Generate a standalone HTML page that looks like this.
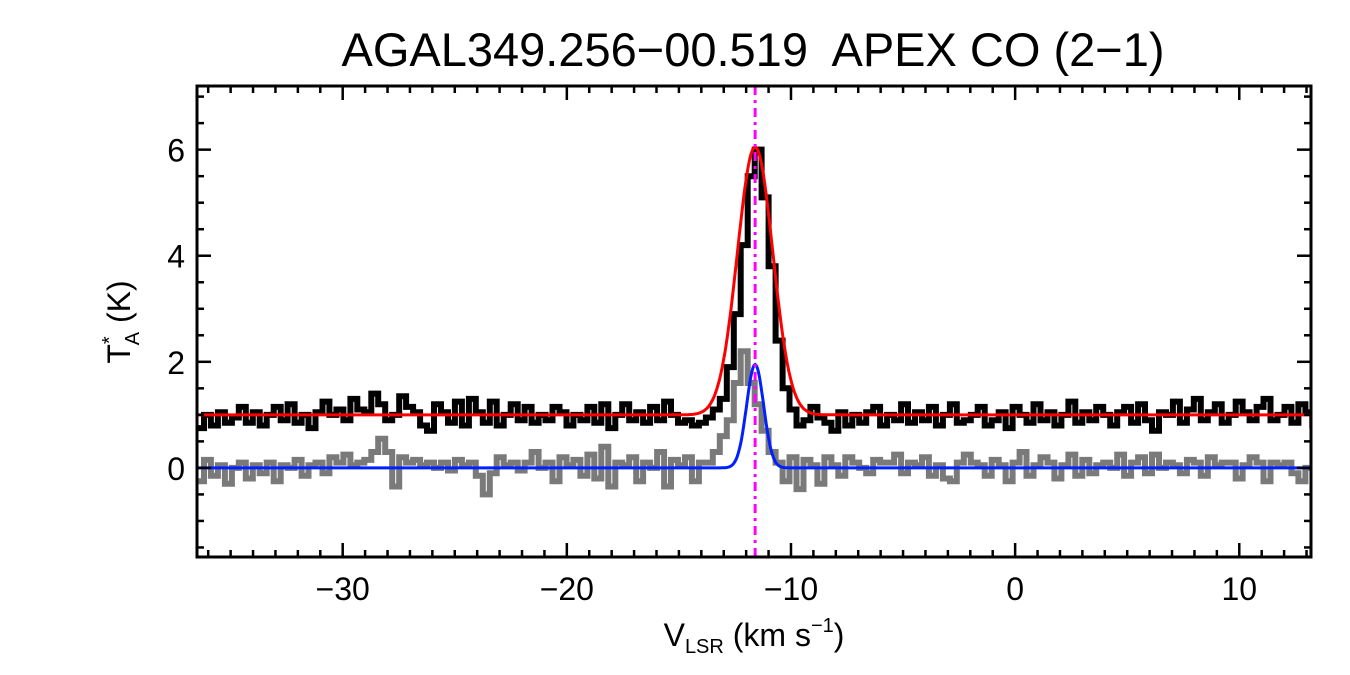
<!DOCTYPE html>
<html><head><meta charset="utf-8"><style>
body{margin:0;background:#fff;}
svg{display:block;font-family:"Liberation Sans",sans-serif;}
</style></head><body>
<svg id="chart" width="1350" height="675" viewBox="0 0 1350 675" xmlns="http://www.w3.org/2000/svg">
<rect width="1350" height="675" fill="#fff"/>
<text x="753" y="66" font-size="47" text-anchor="middle" xml:space="preserve">AGAL349.256−00.519  APEX CO (2−1)</text>
<g id="plot"></g>
<text transform="translate(130,322) rotate(-90)" font-size="32" text-anchor="middle">T<tspan font-size="20" dy="-14">*</tspan><tspan font-size="20" dx="-9" dy="23">A</tspan><tspan dy="-9"> (K)</tspan></text>
<text x="754" y="646" font-size="32" text-anchor="middle">V<tspan font-size="20" dy="7">LSR</tspan><tspan dy="-7"> (km s</tspan><tspan font-size="20" dy="-14">−1</tspan><tspan dy="14">)</tspan></text>
</svg>
<script>
const xTicks=[-30,-20,-10,0,10];
const yTicks=[0,2,4,6];
const vStart=-36.5, chanWidth=0.311;
const blackVals=[0.75,1.0,0.8,1.05,0.85,0.95,1.15,0.85,1.05,0.8,1.0,1.15,0.9,1.2,0.85,1.0,0.75,1.05,1.25,1.0,1.1,0.9,1.3,1.1,1.05,1.4,1.2,0.9,1.0,1.35,1.15,1.05,0.8,0.7,1.2,1.05,0.85,1.25,0.8,1.3,1.05,0.85,1.25,0.8,1.0,1.2,0.9,1.15,0.85,1.0,0.9,1.15,1.05,0.8,1.0,0.9,1.15,0.85,1.2,0.75,1.0,1.2,0.9,1.05,0.85,1.15,0.9,1.25,1.0,0.85,0.9,0.8,0.85,0.95,1.1,1.3,1.9,2.9,4.2,5.5,6.0,5.1,3.8,2.4,1.5,1.1,0.8,0.9,1.15,0.95,0.85,0.7,1.05,0.8,1.0,0.85,1.05,1.15,0.8,1.0,0.9,1.2,0.85,1.05,0.9,1.15,0.8,1.0,1.2,0.85,0.9,1.0,1.15,0.8,0.9,1.05,0.75,1.15,1.0,0.85,1.2,0.9,1.05,0.8,1.0,1.25,0.85,1.05,0.9,1.15,1.0,0.8,1.05,1.15,0.85,1.2,0.9,0.7,1.05,1.0,1.25,0.85,1.1,1.3,0.9,1.05,1.2,0.85,1.0,1.25,1.05,0.9,1.15,1.3,0.9,1.0,1.15,0.85,1.2,1.05,0.8,0.85];
const grayVals=[-0.25,0.15,-0.15,0.05,-0.3,0.0,0.1,-0.2,0.05,-0.1,0.1,-0.25,0.05,0.0,0.15,-0.15,0.05,0.1,-0.1,0.2,0.1,0.25,0.05,0.1,0.15,0.3,0.55,0.3,-0.35,0.2,0.1,0.15,0.05,0.1,0.0,0.1,-0.05,0.15,0.05,0.1,-0.15,-0.5,-0.1,0.2,0.05,0.1,-0.05,0.1,0.3,0.0,0.1,-0.25,0.2,0.05,0.15,-0.15,0.25,-0.2,0.4,-0.35,0.1,0.05,0.2,-0.25,0.1,0.0,0.3,-0.35,0.15,0.05,0.2,-0.25,0.1,0.1,0.3,0.6,0.9,1.6,2.2,1.6,1.2,0.7,0.3,0.1,-0.25,0.2,-0.4,0.15,0.05,-0.3,0.2,0.05,-0.15,0.2,0.1,0.0,-0.1,0.15,0.1,0.1,0.25,-0.1,0.1,0.05,0.2,-0.15,0.05,-0.2,-0.25,0.1,0.25,0.1,0.05,-0.15,0.15,0.05,-0.25,0.1,0.3,-0.15,0.05,0.2,0.1,-0.2,0.05,0.25,-0.15,0.15,-0.1,0.05,0.1,0.0,0.25,-0.15,0.1,0.2,-0.1,0.25,0.0,0.1,0.05,-0.1,0.15,0.1,-0.15,0.2,0.05,0.1,0.1,-0.2,0.05,0.2,0.1,-0.25,0.1,0.05,0.1,-0.1,-0.25,0.0];
const redFit=[1.0,5.05,-11.6,0.79];
const blueFit=[0.0,1.95,-11.6,0.38];
const markerV=-11.6;

const L=197,R=1311,T=86,B=557, xmin=-36.5,xmax=13.2,ymin=-1.68,ymax=7.2;
const X=v=>L+(v-xmin)/(xmax-xmin)*(R-L);
const Y=t=>B-(t-ymin)/(ymax-ymin)*(B-T);
const NS="http://www.w3.org/2000/svg";
const g=document.getElementById('plot');
function mk(tag,attrs){const e=document.createElementNS(NS,tag);for(const k in attrs)e.setAttribute(k,attrs[k]);g.appendChild(e);return e;}
const clip=document.createElementNS(NS,'clipPath');clip.setAttribute('id','pc');
const cr=document.createElementNS(NS,'rect');cr.setAttribute('x',L);cr.setAttribute('y',T);cr.setAttribute('width',R-L);cr.setAttribute('height',B-T);clip.appendChild(cr);g.appendChild(clip);
function stepPath(vals){let d='';vals.forEach((t,i)=>{const x0=X(vStart+i*chanWidth),x1=X(vStart+(i+1)*chanWidth),y=Y(t);d+=(i?'L':'M')+x0.toFixed(1)+','+y.toFixed(1)+'L'+x1.toFixed(1)+','+y.toFixed(1);});return d;}
function fitPath(p){let d='';for(let v=xmin;v<=xmax;v+=0.05){const t=p[0]+p[1]*Math.exp(-0.5*((v-p[2])/p[3])**2);d+=(d?'L':'M')+X(v).toFixed(1)+','+Y(t).toFixed(1);}return d;}
let e;
e=mk('path',{d:stepPath(grayVals),fill:'none',stroke:'#7a7a7a','stroke-width':6,'clip-path':'url(#pc)'});


e=mk('path',{d:stepPath(blackVals),fill:'none',stroke:'#000','stroke-width':6,'clip-path':'url(#pc)'});


e=mk('path',{d:fitPath(redFit),fill:'none',stroke:'#ff0000','stroke-width':3,'clip-path':'url(#pc)'});


e=mk('path',{d:fitPath(blueFit),fill:'none',stroke:'#0020ff','stroke-width':3,'clip-path':'url(#pc)'});


e=mk('line',{x1:X(markerV),x2:X(markerV),y1:T,y2:B,stroke:'#ff00ff','stroke-width':3,'stroke-dasharray':'9,5,3,5'});


e=mk('rect',{x:L,y:T,width:R-L,height:B-T,fill:'none',stroke:'#000','stroke-width':3});


for(let v=-36;v<=13;v+=1){const maj=v%10===0;const h=maj?14:7;
 mk('line',{x1:X(v),x2:X(v),y1:B,y2:B-h,stroke:'#000','stroke-width':2.5});
 mk('line',{x1:X(v),x2:X(v),y1:T,y2:T+h,stroke:'#000','stroke-width':2.5});}
for(let t=-1.5;t<=7;t+=0.5){const maj=Math.abs(t%2)<1e-9;const h=maj?14:7;
 mk('line',{x1:L,x2:L+h,y1:Y(t),y2:Y(t),stroke:'#000','stroke-width':2.5});
 mk('line',{x1:R,x2:R-h,y1:Y(t),y2:Y(t),stroke:'#000','stroke-width':2.5});}
xTicks.forEach(v=>{e=mk('text',{x:X(v),y:B+43,'font-size':32,'text-anchor':'middle'});e.textContent=(v<0?'−':'')+Math.abs(v);
 
 });
yTicks.forEach(t=>{e=mk('text',{x:L-12,y:Y(t)+12,'font-size':32,'text-anchor':'end'});e.textContent=t;
 
 });
</script>
</body></html>
